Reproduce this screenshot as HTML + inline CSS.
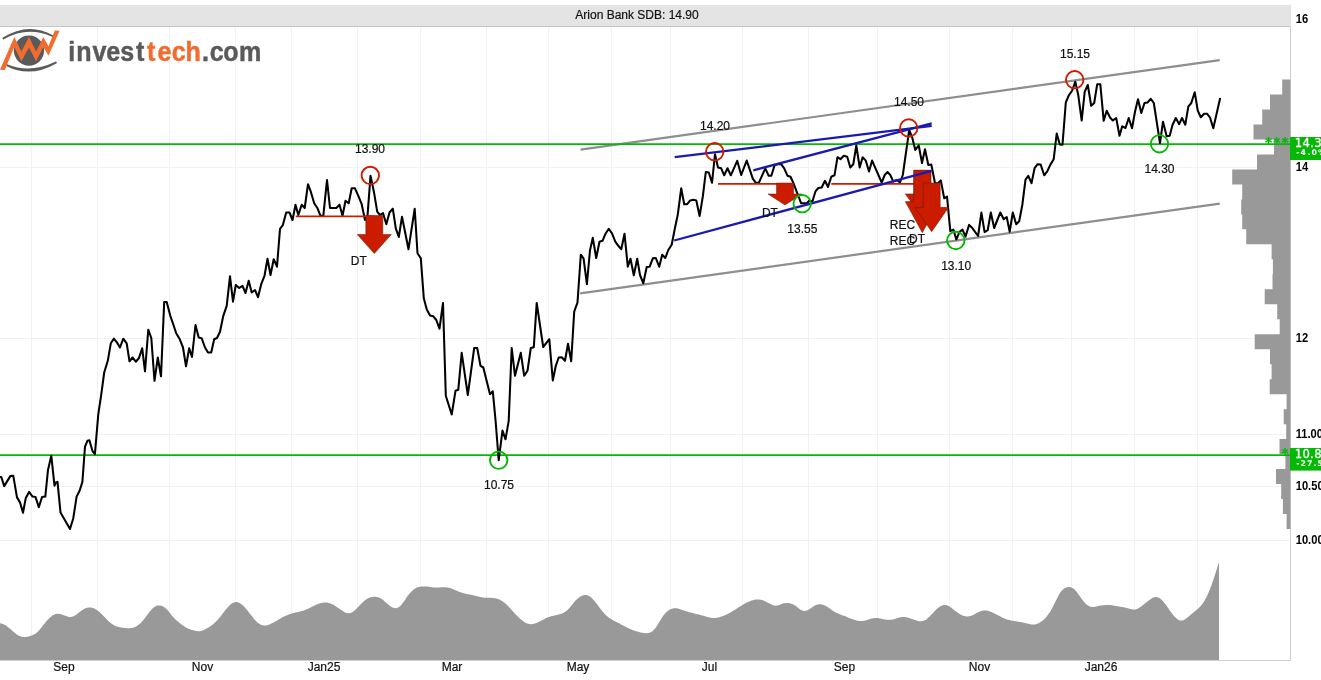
<!DOCTYPE html>
<html lang="en"><head><meta charset="utf-8"><title>Arion Bank SDB: 14.90</title>
<style>
html,body{margin:0;padding:0;background:#fff;}
body{width:1321px;height:680px;overflow:hidden;}
svg{display:block;}
text{font-family:"Liberation Sans","DejaVu Sans",sans-serif;font-size:12px;fill:#111;}
.lbl,.lb2{stroke:#111;stroke-width:0.2px;}
.ax{font-size:12px;fill:#000;font-weight:bold;}
.lbl{text-anchor:middle;}
.dj{font-family:"DejaVu Sans","Liberation Sans",sans-serif;fill:#fff;}
.logo{font-family:"Liberation Sans","DejaVu Sans",sans-serif;font-weight:bold;font-size:28px;}
</style></head><body>
<svg width="1321" height="680" viewBox="0 0 1321 680">
<rect x="0" y="0" width="1321" height="680" fill="#fff"/>
<rect x="0" y="5" width="1291" height="21.5" fill="#e4e4e4"/>
<rect x="0" y="26" width="1290.5" height="1" fill="#c6c6c6"/>
<g fill="#f2f2f2">
<rect x="31" y="27" width="1" height="633"/>
<rect x="97" y="27" width="1" height="633"/>
<rect x="169" y="27" width="1" height="633"/>
<rect x="235" y="27" width="1" height="633"/>
<rect x="291" y="27" width="1" height="633"/>
<rect x="357" y="27" width="1" height="633"/>
<rect x="420" y="27" width="1" height="633"/>
<rect x="486" y="27" width="1" height="633"/>
<rect x="548" y="27" width="1" height="633"/>
<rect x="611" y="27" width="1" height="633"/>
<rect x="670" y="27" width="1" height="633"/>
<rect x="742" y="27" width="1" height="633"/>
<rect x="808" y="27" width="1" height="633"/>
<rect x="877" y="27" width="1" height="633"/>
<rect x="949" y="27" width="1" height="633"/>
<rect x="1012" y="27" width="1" height="633"/>
<rect x="1071" y="27" width="1" height="633"/>
<rect x="1134" y="27" width="1" height="633"/>
<rect x="1197" y="27" width="1" height="633"/>
<rect x="0" y="167" width="1290" height="1"/>
<rect x="0" y="338" width="1290" height="1"/>
<rect x="0" y="434" width="1290" height="1"/>
<rect x="0" y="486" width="1290" height="1"/>
<rect x="0" y="540" width="1290" height="1"/>
</g>
<rect x="1290" y="26" width="1" height="635" fill="#cfcfcf"/>
<rect x="0" y="660" width="1291" height="1" fill="#cfcfcf"/>
<polygon points="0.0,623.2 1.5,623.5 3.0,624.0 4.5,624.7 6.0,625.6 7.5,626.7 9.0,627.9 10.5,629.1 12.0,630.4 13.5,631.7 15.0,633.0 16.5,634.2 18.0,635.2 19.5,636.0 21.0,636.6 22.5,636.9 24.0,637.0 25.5,637.0 27.0,636.8 28.5,636.5 30.0,636.1 31.5,635.6 33.0,635.0 34.5,634.2 36.0,633.3 37.5,632.0 39.0,630.4 40.5,628.6 42.0,626.7 43.5,624.8 45.0,622.9 46.5,621.1 48.0,619.4 49.5,618.0 51.0,616.7 52.5,615.6 54.0,614.7 55.5,614.1 57.0,613.7 58.5,613.7 60.0,613.9 61.5,614.3 63.0,614.9 64.5,615.5 66.0,616.1 67.5,616.6 69.0,617.0 70.5,617.1 72.0,616.8 73.5,616.3 75.0,615.5 76.5,614.4 78.0,613.3 79.5,612.1 81.0,611.0 82.5,609.9 84.0,609.0 85.5,608.3 87.0,607.8 88.5,607.6 90.0,607.5 91.5,607.6 93.0,608.0 94.5,608.6 96.0,609.4 97.5,610.4 99.0,611.6 100.5,613.0 102.0,614.5 103.5,616.0 105.0,617.6 106.5,619.2 108.0,620.7 109.5,622.1 111.0,623.3 112.5,624.3 114.0,625.2 115.5,625.9 117.0,626.5 118.5,627.0 120.0,627.3 121.5,627.6 123.0,627.8 124.5,628.0 126.0,628.1 127.5,628.2 129.0,628.2 130.5,628.1 132.0,627.9 133.5,627.5 135.0,627.0 136.5,626.3 138.0,625.3 139.5,624.1 141.0,622.7 142.5,621.0 144.0,619.2 145.5,617.2 147.0,615.2 148.5,613.2 150.0,611.3 151.5,609.6 153.0,608.1 154.5,606.9 156.0,606.1 157.5,605.6 159.0,605.5 160.5,605.6 162.0,606.0 163.5,606.7 165.0,607.7 166.5,609.0 168.0,610.6 169.5,612.5 171.0,614.4 172.5,616.2 174.0,617.9 175.5,619.4 177.0,620.7 178.5,622.0 180.0,623.2 181.5,624.4 183.0,625.4 184.5,626.5 186.0,627.4 187.5,628.2 189.0,628.9 190.5,629.5 192.0,629.9 193.5,630.3 195.0,630.7 196.5,631.0 198.0,631.2 199.5,631.2 201.0,631.0 202.5,630.5 204.0,629.9 205.5,629.1 207.0,628.3 208.5,627.4 210.0,626.5 211.5,625.4 213.0,624.3 214.5,623.0 216.0,621.5 217.5,619.9 219.0,618.2 220.5,616.4 222.0,614.5 223.5,612.5 225.0,610.6 226.5,608.7 228.0,606.9 229.5,605.4 231.0,604.1 232.5,603.1 234.0,602.4 235.5,602.0 237.0,602.1 238.5,602.4 240.0,603.2 241.5,604.2 243.0,605.5 244.5,607.0 246.0,608.7 247.5,610.5 249.0,612.4 250.5,614.4 252.0,616.3 253.5,618.2 255.0,620.0 256.5,621.6 258.0,622.9 259.5,624.0 261.0,624.8 262.5,625.3 264.0,625.5 265.5,625.5 267.0,625.2 268.5,624.8 270.0,624.2 271.5,623.5 273.0,622.7 274.5,621.9 276.0,621.0 277.5,620.2 279.0,619.3 280.5,618.4 282.0,617.6 283.5,616.8 285.0,616.1 286.5,615.4 288.0,614.8 289.5,614.3 291.0,613.8 292.5,613.3 294.0,612.9 295.5,612.6 297.0,612.2 298.5,611.9 300.0,611.5 301.5,611.1 303.0,610.7 304.5,610.2 306.0,609.6 307.5,609.0 309.0,608.3 310.5,607.5 312.0,606.8 313.5,606.0 315.0,605.3 316.5,604.6 318.0,604.0 319.5,603.5 321.0,603.0 322.5,602.7 324.0,602.5 325.5,602.5 327.0,602.6 328.5,602.9 330.0,603.3 331.5,603.9 333.0,604.6 334.5,605.5 336.0,606.4 337.5,607.4 339.0,608.4 340.5,609.5 342.0,610.6 343.5,611.5 345.0,612.4 346.5,613.0 348.0,613.3 349.5,613.2 351.0,612.8 352.5,612.0 354.0,611.0 355.5,609.7 357.0,608.2 358.5,606.6 360.0,605.0 361.5,603.4 363.0,602.0 364.5,600.7 366.0,599.6 367.5,598.6 369.0,597.9 370.5,597.3 372.0,596.9 373.5,596.7 375.0,596.7 376.5,596.9 378.0,597.2 379.5,597.8 381.0,598.6 382.5,599.6 384.0,600.8 385.5,602.2 387.0,603.5 388.5,604.8 390.0,606.0 391.5,607.0 393.0,607.7 394.5,608.1 396.0,608.2 397.5,607.8 399.0,607.0 400.5,605.7 402.0,604.1 403.5,602.1 405.0,599.9 406.5,597.6 408.0,595.5 409.5,593.6 411.0,591.9 412.5,590.5 414.0,589.3 415.5,588.3 417.0,587.6 418.5,587.1 420.0,586.7 421.5,586.5 423.0,586.4 424.5,586.4 426.0,586.5 427.5,586.6 429.0,586.8 430.5,587.0 432.0,587.2 433.5,587.4 435.0,587.5 436.5,587.5 438.0,587.5 439.5,587.4 441.0,587.3 442.5,587.2 444.0,587.2 445.5,587.3 447.0,587.4 448.5,587.7 450.0,588.1 451.5,588.6 453.0,589.2 454.5,589.8 456.0,590.4 457.5,591.1 459.0,591.7 460.5,592.3 462.0,592.8 463.5,593.3 465.0,593.6 466.5,593.9 468.0,594.2 469.5,594.4 471.0,594.7 472.5,595.0 474.0,595.4 475.5,595.8 477.0,596.2 478.5,596.6 480.0,597.0 481.5,597.3 483.0,597.6 484.5,597.7 486.0,597.8 487.5,597.8 489.0,597.8 490.5,597.8 492.0,597.9 493.5,598.0 495.0,598.2 496.5,598.5 498.0,599.0 499.5,599.6 501.0,600.4 502.5,601.3 504.0,602.4 505.5,603.6 507.0,605.0 508.5,606.5 510.0,608.1 511.5,609.8 513.0,611.5 514.5,613.2 516.0,614.8 517.5,616.3 519.0,617.7 520.5,619.1 522.0,620.3 523.5,621.4 525.0,622.4 526.5,623.2 528.0,623.8 529.5,624.1 531.0,624.3 532.5,624.1 534.0,623.8 535.5,623.3 537.0,622.7 538.5,622.0 540.0,621.3 541.5,620.5 543.0,619.7 544.5,618.9 546.0,618.1 547.5,617.5 549.0,617.0 550.5,616.5 552.0,616.1 553.5,615.8 555.0,615.4 556.5,615.1 558.0,614.7 559.5,614.3 561.0,613.9 562.5,613.3 564.0,612.6 565.5,611.6 567.0,610.5 568.5,609.0 570.0,607.3 571.5,605.4 573.0,603.6 574.5,601.8 576.0,600.1 577.5,598.8 579.0,597.6 580.5,596.6 582.0,595.8 583.5,595.3 585.0,595.0 586.5,595.1 588.0,595.5 589.5,596.2 591.0,597.3 592.5,598.8 594.0,600.4 595.5,602.3 597.0,604.3 598.5,606.3 600.0,608.3 601.5,610.3 603.0,612.1 604.5,613.8 606.0,615.3 607.5,616.6 609.0,617.8 610.5,618.7 612.0,619.6 613.5,620.4 615.0,621.2 616.5,622.0 618.0,622.8 619.5,623.6 621.0,624.4 622.5,625.2 624.0,626.0 625.5,626.8 627.0,627.5 628.5,628.3 630.0,628.9 631.5,629.6 633.0,630.2 634.5,630.7 636.0,631.2 637.5,631.6 639.0,632.0 640.5,632.4 642.0,632.8 643.5,633.0 645.0,633.2 646.5,633.2 648.0,633.0 649.5,632.7 651.0,632.1 652.5,631.2 654.0,629.8 655.5,628.0 657.0,625.8 658.5,623.3 660.0,620.7 661.5,618.2 663.0,616.1 664.5,614.2 666.0,612.5 667.5,611.2 669.0,610.1 670.5,609.3 672.0,608.7 673.5,608.3 675.0,608.2 676.5,608.3 678.0,608.6 679.5,609.0 681.0,609.5 682.5,610.0 684.0,610.5 685.5,611.0 687.0,611.5 688.5,611.9 690.0,612.3 691.5,612.7 693.0,613.1 694.5,613.5 696.0,613.9 697.5,614.2 699.0,614.6 700.5,615.0 702.0,615.4 703.5,615.8 705.0,616.2 706.5,616.7 708.0,617.1 709.5,617.5 711.0,617.7 712.5,617.9 714.0,618.0 715.5,617.9 717.0,617.7 718.5,617.4 720.0,617.0 721.5,616.6 723.0,616.0 724.5,615.4 726.0,614.7 727.5,614.0 729.0,613.2 730.5,612.4 732.0,611.5 733.5,610.6 735.0,609.7 736.5,608.7 738.0,607.8 739.5,606.8 741.0,605.9 742.5,605.0 744.0,604.1 745.5,603.3 747.0,602.5 748.5,601.8 750.0,601.2 751.5,600.6 753.0,600.2 754.5,599.8 756.0,599.6 757.5,599.5 759.0,599.6 760.5,599.8 762.0,600.1 763.5,600.6 765.0,601.2 766.5,601.9 768.0,602.7 769.5,603.4 771.0,604.2 772.5,604.9 774.0,605.4 775.5,605.7 777.0,605.6 778.5,605.2 780.0,604.7 781.5,604.1 783.0,603.5 784.5,603.2 786.0,602.9 787.5,602.9 789.0,603.0 790.5,603.4 792.0,603.9 793.5,604.6 795.0,605.5 796.5,606.6 798.0,607.8 799.5,608.9 801.0,609.9 802.5,610.6 804.0,610.9 805.5,610.8 807.0,610.4 808.5,609.7 810.0,608.7 811.5,607.7 813.0,606.7 814.5,605.8 816.0,605.1 817.5,604.6 819.0,604.3 820.5,604.2 822.0,604.4 823.5,604.9 825.0,605.6 826.5,606.4 828.0,607.3 829.5,608.3 831.0,609.4 832.5,610.4 834.0,611.4 835.5,612.3 837.0,613.1 838.5,613.7 840.0,614.3 841.5,614.9 843.0,615.4 844.5,616.0 846.0,616.6 847.5,617.2 849.0,617.9 850.5,618.5 852.0,619.1 853.5,619.6 855.0,620.1 856.5,620.5 858.0,620.8 859.5,620.9 861.0,621.0 862.5,620.9 864.0,620.7 865.5,620.4 867.0,620.0 868.5,619.5 870.0,619.1 871.5,618.6 873.0,618.3 874.5,618.0 876.0,618.0 877.5,618.1 879.0,618.3 880.5,618.6 882.0,618.9 883.5,619.2 885.0,619.5 886.5,619.7 888.0,619.8 889.5,619.8 891.0,619.7 892.5,619.5 894.0,619.2 895.5,618.7 897.0,618.3 898.5,617.8 900.0,617.4 901.5,617.1 903.0,617.0 904.5,617.0 906.0,617.2 907.5,617.5 909.0,617.9 910.5,618.4 912.0,618.9 913.5,619.5 915.0,620.1 916.5,620.5 918.0,620.9 919.5,621.2 921.0,621.2 922.5,621.0 924.0,620.6 925.5,619.9 927.0,618.9 928.5,617.6 930.0,616.1 931.5,614.5 933.0,612.9 934.5,611.2 936.0,609.7 937.5,608.3 939.0,607.2 940.5,606.2 942.0,605.5 943.5,605.1 945.0,605.0 946.5,605.3 948.0,605.8 949.5,606.6 951.0,607.6 952.5,608.7 954.0,609.9 955.5,611.0 957.0,612.2 958.5,613.2 960.0,614.2 961.5,615.0 963.0,615.7 964.5,616.1 966.0,616.4 967.5,616.4 969.0,616.3 970.5,615.9 972.0,615.4 973.5,614.7 975.0,613.9 976.5,613.1 978.0,612.3 979.5,611.7 981.0,611.1 982.5,610.7 984.0,610.5 985.5,610.5 987.0,610.6 988.5,610.9 990.0,611.4 991.5,612.0 993.0,612.7 994.5,613.4 996.0,614.2 997.5,615.0 999.0,615.8 1000.5,616.6 1002.0,617.4 1003.5,618.1 1005.0,618.7 1006.5,619.2 1008.0,619.7 1009.5,620.1 1011.0,620.5 1012.5,620.8 1014.0,621.0 1015.5,621.3 1017.0,621.5 1018.5,621.8 1020.0,622.0 1021.5,622.3 1023.0,622.6 1024.5,622.9 1026.0,623.2 1027.5,623.6 1029.0,624.0 1030.5,624.3 1032.0,624.5 1033.5,624.5 1035.0,624.4 1036.5,624.0 1038.0,623.5 1039.5,622.7 1041.0,621.8 1042.5,620.7 1044.0,619.4 1045.5,617.9 1047.0,616.1 1048.5,614.1 1050.0,611.9 1051.5,609.3 1053.0,606.5 1054.5,603.5 1056.0,600.4 1057.5,597.4 1059.0,594.6 1060.5,592.3 1062.0,590.4 1063.5,589.1 1065.0,588.1 1066.5,587.4 1068.0,587.0 1069.5,586.9 1071.0,587.3 1072.5,588.0 1074.0,589.1 1075.5,590.5 1077.0,592.3 1078.5,594.4 1080.0,596.5 1081.5,598.7 1083.0,600.6 1084.5,602.4 1086.0,603.9 1087.5,605.2 1089.0,606.1 1090.5,606.7 1092.0,606.9 1093.5,606.9 1095.0,606.7 1096.5,606.4 1098.0,606.1 1099.5,605.8 1101.0,605.5 1102.5,605.3 1104.0,605.2 1105.5,605.0 1107.0,605.0 1108.5,605.0 1110.0,605.1 1111.5,605.3 1113.0,605.5 1114.5,605.7 1116.0,605.9 1117.5,606.2 1119.0,606.5 1120.5,606.7 1122.0,607.0 1123.5,607.3 1125.0,607.6 1126.5,607.9 1128.0,608.3 1129.5,608.7 1131.0,609.1 1132.5,609.4 1134.0,609.5 1135.5,609.4 1137.0,608.9 1138.5,608.3 1140.0,607.3 1141.5,606.3 1143.0,605.1 1144.5,603.9 1146.0,602.6 1147.5,601.4 1149.0,600.2 1150.5,599.2 1152.0,598.2 1153.5,597.5 1155.0,597.1 1156.5,597.0 1158.0,597.4 1159.5,598.1 1161.0,599.3 1162.5,600.7 1164.0,602.4 1165.5,604.3 1167.0,606.4 1168.5,608.6 1170.0,610.7 1171.5,612.8 1173.0,614.7 1174.5,616.5 1176.0,618.0 1177.5,619.3 1179.0,620.2 1180.5,620.6 1182.0,620.6 1183.5,620.2 1185.0,619.3 1186.5,618.3 1188.0,617.1 1189.5,615.8 1191.0,614.6 1192.5,613.3 1194.0,612.0 1195.5,610.8 1197.0,609.6 1198.5,608.3 1200.0,606.8 1201.5,605.1 1203.0,603.1 1204.5,600.8 1206.0,598.1 1207.5,595.0 1209.0,591.5 1210.5,587.7 1212.0,583.6 1213.5,579.3 1215.0,574.7 1216.5,570.0 1218.0,565.2 1219.0,562.0 1219,660 0,660" fill="#999"/>
<polygon points="1290.4,79.5 1282.2,79.5 1282.2,94.5 1270.0,94.5 1270.0,109.5 1262.2,109.5 1262.2,124.5 1253.5,124.5 1253.5,139.4 1274.0,139.4 1274.0,154.4 1257.0,154.4 1257.0,169.4 1232.2,169.4 1232.2,184.4 1242.2,184.4 1242.2,199.4 1241.2,199.4 1241.2,214.4 1242.2,214.4 1242.2,229.3 1246.2,229.3 1246.2,244.3 1271.6,244.3 1271.6,259.3 1272.9,259.3 1272.9,274.3 1272.5,274.3 1272.5,289.3 1264.7,289.3 1264.7,304.3 1277.2,304.3 1277.2,319.3 1279.7,319.3 1279.7,334.2 1254.7,334.2 1254.7,349.2 1270.0,349.2 1270.0,364.2 1271.6,364.2 1271.6,379.2 1269.7,379.2 1269.7,394.2 1286.6,394.2 1286.6,409.2 1283.7,409.2 1283.7,424.2 1286.2,424.2 1286.2,439.1 1279.5,439.1 1279.5,454.1 1285.4,454.1 1285.4,469.1 1276.0,469.1 1276.0,484.1 1281.2,484.1 1281.2,499.1 1282.9,499.1 1282.9,514.1 1286.6,514.1 1286.6,529.0 1290.4,529.0" fill="#999"/>
<g stroke="#8e8e8e" stroke-width="2.2" fill="none" stroke-linecap="butt">
<line x1="580.5" y1="149.7" x2="1219.7" y2="60.1"/>
<line x1="580.2" y1="293.4" x2="1219.7" y2="203.6"/>
</g>
<g stroke="#06b806" stroke-width="1.6">
<line x1="0" y1="144.1" x2="1290" y2="144.1"/>
<line x1="0" y1="455.1" x2="1290" y2="455.1"/>
</g>
<polyline points="0.0,477.0 1.3,477.0 4.2,486.1 10.3,476.1 13.3,475.8 17.0,497.4 20.0,502.4 23.0,512.7 25.8,497.9 29.1,491.9 32.5,496.6 35.5,496.9 38.8,507.2 42.1,496.9 45.3,496.6 48.0,469.9 51.3,455.8 54.5,485.7 55.8,482.4 57.5,481.9 60.5,512.4 70.0,529.0 73.3,518.2 76.6,496.6 79.6,490.7 82.4,481.9 85.0,446.6 87.4,440.8 89.4,440.3 92.4,450.8 94.9,454.1 98.3,414.1 101.3,394.1 104.2,372.5 107.8,360.8 110.8,343.3 113.8,338.7 117.0,342.5 120.0,347.5 123.3,338.7 126.7,343.3 129.5,361.3 132.5,357.5 135.8,361.7 138.8,358.3 142.2,348.3 145.0,371.3 148.3,329.7 151.3,338.0 154.5,380.8 157.8,357.5 161.0,376.3 164.2,302.0 166.7,302.0 170.3,315.8 173.3,324.5 176.2,333.3 179.5,338.7 183.0,347.5 186.0,366.3 189.2,348.3 192.0,357.0 195.5,325.0 198.7,337.5 201.7,338.3 205.0,347.5 208.0,352.5 211.2,352.5 214.2,339.2 217.0,338.0 220.0,331.7 223.3,315.8 226.7,305.8 230.0,276.3 233.0,301.7 235.8,285.0 239.2,288.0 242.5,285.8 245.5,293.0 248.7,280.8 251.7,292.5 255.0,290.0 258.0,297.2 261.2,284.2 264.5,275.8 267.5,258.7 270.5,275.0 273.7,259.2 277.0,266.7 280.0,228.8 282.8,225.2 286.2,212.5 289.5,212.5 292.5,220.0 295.5,204.7 298.3,215.0 301.7,204.7 304.7,208.0 308.0,184.2 310.8,191.7 314.2,203.3 317.5,208.3 320.5,215.8 323.3,215.8 327.0,180.0 330.0,208.0 333.3,208.0 336.3,208.0 339.5,204.7 342.5,215.8 345.5,200.8 348.7,203.3 351.7,188.3 355.0,188.3 358.3,195.8 361.7,204.2 365.0,220.0 367.5,215.8 370.5,175.8 374.2,193.3 377.2,211.7 380.0,215.0 383.0,213.0 386.3,224.2 389.5,212.5 392.8,208.7 395.8,228.3 398.8,237.0 402.0,216.7 408.5,249.2 414.7,208.7 417.5,253.3 420.8,258.3 423.8,298.3 426.7,309.2 430.0,315.5 433.3,316.3 436.3,320.0 439.5,328.7 443.0,303.0 445.8,395.8 451.7,414.5 455.5,390.8 458.3,389.7 461.7,352.8 467.8,395.0 474.2,348.0 477.2,348.0 480.5,365.8 483.3,367.5 490.0,394.2 492.8,391.3 495.6,421.0 498.7,460.2 502.5,430.5 505.5,439.3 508.7,420.8 511.7,348.0 515.0,375.8 520.8,352.8 524.2,375.8 527.5,370.8 530.8,348.0 533.8,347.2 536.7,303.0 543.2,347.0 549.3,339.2 552.8,380.5 555.8,365.8 558.7,357.5 561.7,357.2 565.0,360.8 568.0,343.7 571.2,361.3 574.2,311.7 577.5,302.5 580.8,254.7 583.6,258.7 586.9,284.2 590.0,250.4 592.8,237.8 596.2,258.0 599.5,241.7 602.5,240.8 605.5,233.7 608.8,228.8 612.0,233.3 615.3,241.7 618.3,245.8 621.3,249.2 624.5,233.7 627.8,266.7 630.5,258.7 633.8,275.3 637.2,258.7 640.0,275.0 643.3,283.3 646.7,267.0 649.7,266.7 652.8,258.3 655.8,258.0 659.2,266.7 662.2,254.7 665.3,258.0 668.3,250.0 671.7,244.7 674.7,229.2 677.8,214.5 681.2,188.3 684.2,204.2 687.2,204.2 690.2,200.4 693.3,199.8 696.3,200.5 699.6,216.0 702.8,196.7 705.8,172.0 708.8,172.5 712.0,182.8 715.0,154.2 718.0,167.5 721.2,168.3 724.2,175.3 727.5,168.3 730.8,175.3 737.2,160.8 741.2,175.0 746.7,160.5 752.8,178.7 755.8,182.8 758.8,182.8 765.3,168.3 768.7,175.8 771.3,175.8 774.7,165.0 777.8,164.2 781.2,164.2 784.2,168.3 787.5,175.8 790.5,176.7 793.3,182.8 801.2,203.3 806.7,203.3 809.2,200.8 812.5,201.3 815.5,191.3 818.3,188.0 821.7,187.5 825.0,180.8 828.0,187.0 831.3,176.7 834.5,175.3 837.5,157.2 840.5,159.2 843.8,155.8 847.2,156.7 850.3,167.5 853.3,164.2 856.3,145.5 859.7,167.5 862.6,157.2 865.8,160.6 869.0,171.5 872.1,160.6 881.7,182.5 884.7,175.0 887.5,172.0 890.3,175.0 893.3,181.7 896.7,180.0 900.0,182.5 902.8,175.0 909.2,130.0 912.2,137.5 915.3,150.0 918.7,145.3 922.0,163.0 925.0,149.2 928.3,165.0 931.3,164.5 935.0,183.3 937.8,183.3 940.8,180.4 944.2,198.3 947.0,196.5 950.3,231.2 953.4,229.6 956.3,239.5 959.5,231.8 962.5,229.6 965.5,236.6 969.1,224.9 972.5,228.3 978.1,236.0 981.4,212.6 984.6,232.1 987.7,230.2 990.8,212.5 994.2,228.0 1000.3,212.5 1003.7,219.2 1006.7,217.0 1009.7,231.7 1012.8,212.5 1016.2,224.2 1019.2,221.2 1022.3,205.0 1025.5,179.6 1028.3,175.8 1031.5,183.2 1034.6,168.1 1037.6,164.2 1040.6,164.4 1044.2,175.3 1047.2,171.4 1050.4,164.6 1053.7,159.2 1056.7,133.5 1059.8,144.5 1062.5,144.7 1065.8,102.5 1068.8,95.3 1072.2,90.5 1075.3,81.7 1078.3,95.3 1081.7,120.5 1084.7,91.7 1087.8,85.0 1091.2,105.8 1094.2,103.0 1097.2,84.2 1100.3,84.2 1103.7,120.8 1106.7,110.8 1110.0,117.5 1112.8,120.5 1116.2,118.0 1119.5,135.8 1122.2,126.3 1125.5,128.0 1128.7,118.0 1132.0,128.3 1135.0,111.7 1138.0,99.2 1141.3,113.0 1144.5,103.0 1147.5,102.5 1150.8,98.8 1153.8,103.0 1160.0,143.0 1163.0,121.7 1166.7,136.2 1169.7,135.8 1172.5,125.0 1175.8,118.0 1179.2,124.2 1182.0,118.0 1185.3,124.7 1188.3,106.7 1191.3,103.0 1194.7,92.2 1197.8,110.8 1200.8,117.2 1204.2,113.8 1207.2,113.8 1210.0,117.5 1213.3,128.3 1220.0,98.8" fill="none" stroke="#000" stroke-width="2.05" stroke-linejoin="round" stroke-linecap="round"/>
<g stroke="#cc1c00" stroke-width="1.8">
<line x1="295.8" y1="216.4" x2="374" y2="216.4"/>
<line x1="718" y1="183.9" x2="785" y2="183.9"/>
<line x1="831.3" y1="183.9" x2="931" y2="183.9"/>
</g>
<g fill="#cc1c00" stroke="#5a1a10" stroke-width="0.5" stroke-linejoin="miter">
<polygon points="365.8,215.4 382.8,215.4 382.8,234.5 391.3,234.5 374.3,253.6 357.3,234.5 365.8,234.5"/>
<polygon points="776.5,183.0 793.5,183.0 793.5,194.0 802.0,194.0 785.0,205.0 768.0,194.0 776.5,194.0"/>
<polygon points="913.8,170.3 930.8,170.3 930.8,193.9 939.3,193.9 922.3,217.5 905.3,193.9 913.8,193.9"/>
<polygon points="913.8,170.3 930.8,170.3 930.8,201.6 939.3,201.6 922.3,232.8 905.3,201.6 913.8,201.6"/>
<polygon points="923.2,183.0 940.2,183.0 940.2,207.3 948.7,207.3 931.7,231.7 914.7,207.3 923.2,207.3"/>
</g>
<g stroke="#1a1ab0" stroke-width="2.3" fill="none">
<line x1="674.7" y1="157.2" x2="931.7" y2="125.8"/>
<line x1="753.3" y1="170.3" x2="931.7" y2="123.3"/>
<line x1="674.2" y1="240.5" x2="931.7" y2="170.8"/>
</g>
<g fill="none" stroke-width="1.9">
<circle cx="370.3" cy="175.4" r="8.7" stroke="#cc1c00"/>
<circle cx="714.7" cy="151.7" r="8.7" stroke="#cc1c00"/>
<circle cx="908.7" cy="128" r="8.7" stroke="#cc1c00"/>
<circle cx="1074.7" cy="79.7" r="8.7" stroke="#cc1c00"/>
<circle cx="498.7" cy="460.2" r="8.7" stroke="#06b806"/>
<circle cx="802.2" cy="203.7" r="8.7" stroke="#06b806"/>
<circle cx="955.8" cy="240.5" r="8.7" stroke="#06b806"/>
<circle cx="1159.5" cy="143.8" r="8.7" stroke="#06b806"/>
</g>
<text class="lbl" x="370" y="153.3">13.90</text>
<text class="lbl" x="715" y="130">14.20</text>
<text class="lbl" x="909" y="106.3">14.50</text>
<text class="lbl" x="1075" y="58">15.15</text>
<text class="lbl" x="499" y="488.8">10.75</text>
<text class="lbl" x="802.3" y="233.2">13.55</text>
<text class="lbl" x="956.2" y="270.1">13.10</text>
<text class="lbl" x="1159.5" y="173">14.30</text>
<text class="lb2" text-anchor="end" x="366.8" y="264.7">DT</text>
<text class="lb2" text-anchor="end" x="777.9" y="216.8">DT</text>
<text class="lb2" text-anchor="end" x="915.2" y="229">REC</text>
<text class="lb2" text-anchor="end" x="915.2" y="244.9">REC</text>
<text class="lb2" text-anchor="end" x="925" y="243">DT</text>
<text class="lbl" x="64" y="671">Sep</text>
<text class="lbl" x="202.5" y="671">Nov</text>
<text class="lbl" x="324" y="671">Jan25</text>
<text class="lbl" x="452" y="671">Mar</text>
<text class="lbl" x="578" y="671">May</text>
<text class="lbl" x="709.5" y="671">Jul</text>
<text class="lbl" x="844.5" y="671">Sep</text>
<text class="lbl" x="979.5" y="671">Nov</text>
<text class="lbl" x="1101" y="671">Jan26</text>
<text class="lbl" x="637" y="19">Arion Bank SDB: 14.90</text>
<text class="ax" transform="translate(1295.7,22.9) scale(0.93,1)" x="0" y="0">16</text>
<text class="ax" transform="translate(1295.7,170.9) scale(0.93,1)" x="0" y="0">14</text>
<text class="ax" transform="translate(1295.7,341.9) scale(0.93,1)" x="0" y="0">12</text>
<text class="ax" transform="translate(1295.7,437.9) scale(0.93,1)" x="0" y="0">11.00</text>
<text class="ax" transform="translate(1295.7,489.7) scale(0.93,1)" x="0" y="0">10.50</text>
<text class="ax" transform="translate(1295.7,543.7) scale(0.93,1)" x="0" y="0">10.00</text>
<text x="1264.9 1273.25 1281.6" y="147.4" style="font-family:'DejaVu Sans','Liberation Sans',sans-serif;font-size:13.5px;font-weight:bold;fill:#06b806;stroke:#06b806;stroke-width:0.25px">***</text>
<text x="1281.6" y="458.4" style="font-family:'DejaVu Sans','Liberation Sans',sans-serif;font-size:13.5px;font-weight:bold;fill:#06b806;stroke:#06b806;stroke-width:0.25px">*</text>
<rect x="1290" y="137" width="31" height="23" fill="#06b806"/>
<text class="dj" x="1294.8 1302.4 1310.0 1314.2 1321.8" y="146.7" style="font-size:11.6px;stroke:#fff;stroke-width:0.3px">14.30</text>
<text class="dj" x="1296.2 1300.5 1307.7 1311.4 1318.0" y="155.0" style="font-size:7.8px;font-weight:bold">-4.0%</text>
<rect x="1290" y="448" width="31" height="22.6" fill="#06b806"/>
<text class="dj" x="1294.8 1302.4 1310.0 1314.2 1321.8" y="457.7" style="font-size:11.6px;stroke:#fff;stroke-width:0.3px">10.80</text>
<text class="dj" x="1296.2 1300.5 1307.0 1313.6 1317.2 1323.6" y="466.0" style="font-size:7.8px;font-weight:bold">-27.5%</text>
<g>
<circle cx="29" cy="50.6" r="15.1" fill="#5a5a5a"/>
<path d="M3.4,38.4 Q28,22.6 52.4,36 Q28,24.6 3.4,38.4Z" fill="#5a5a5a" stroke="#5a5a5a" stroke-width="1.9" stroke-linejoin="round"/>
<path d="M7.3,65.3 Q30,77.2 55.8,62.6 Q30,74.8 7.3,65.3Z" fill="#5a5a5a" stroke="#5a5a5a" stroke-width="1.9" stroke-linejoin="round"/>
<polygon points="0,69.7 14.3,37.1 21.4,51.4 29,37.1 36.1,51.4 43.3,37.1 48.5,46.2 54.8,30.4 59.6,30.8 48.5,55.8 43.3,47 36.1,61.3 29,47.4 21.4,61.3 14.3,47 4.8,69.9" fill="#f26b2f"/>
<text class="logo" transform="scale(0.88,1)" x="77.53 86.75 105.02 120.73 136.73 154.66 167.16 178.91 195.06 210.68 229.58 238.47 253.75 271.66" y="60.6" style="font-size:28.5px;stroke-width:0.5px"><tspan fill="#5a5a5a" stroke="#5a5a5a">invest</tspan><tspan fill="#f26b2f" stroke="#f26b2f">tech</tspan><tspan fill="#5a5a5a" stroke="#5a5a5a">.com</tspan></text>
</g>
</svg></body></html>
